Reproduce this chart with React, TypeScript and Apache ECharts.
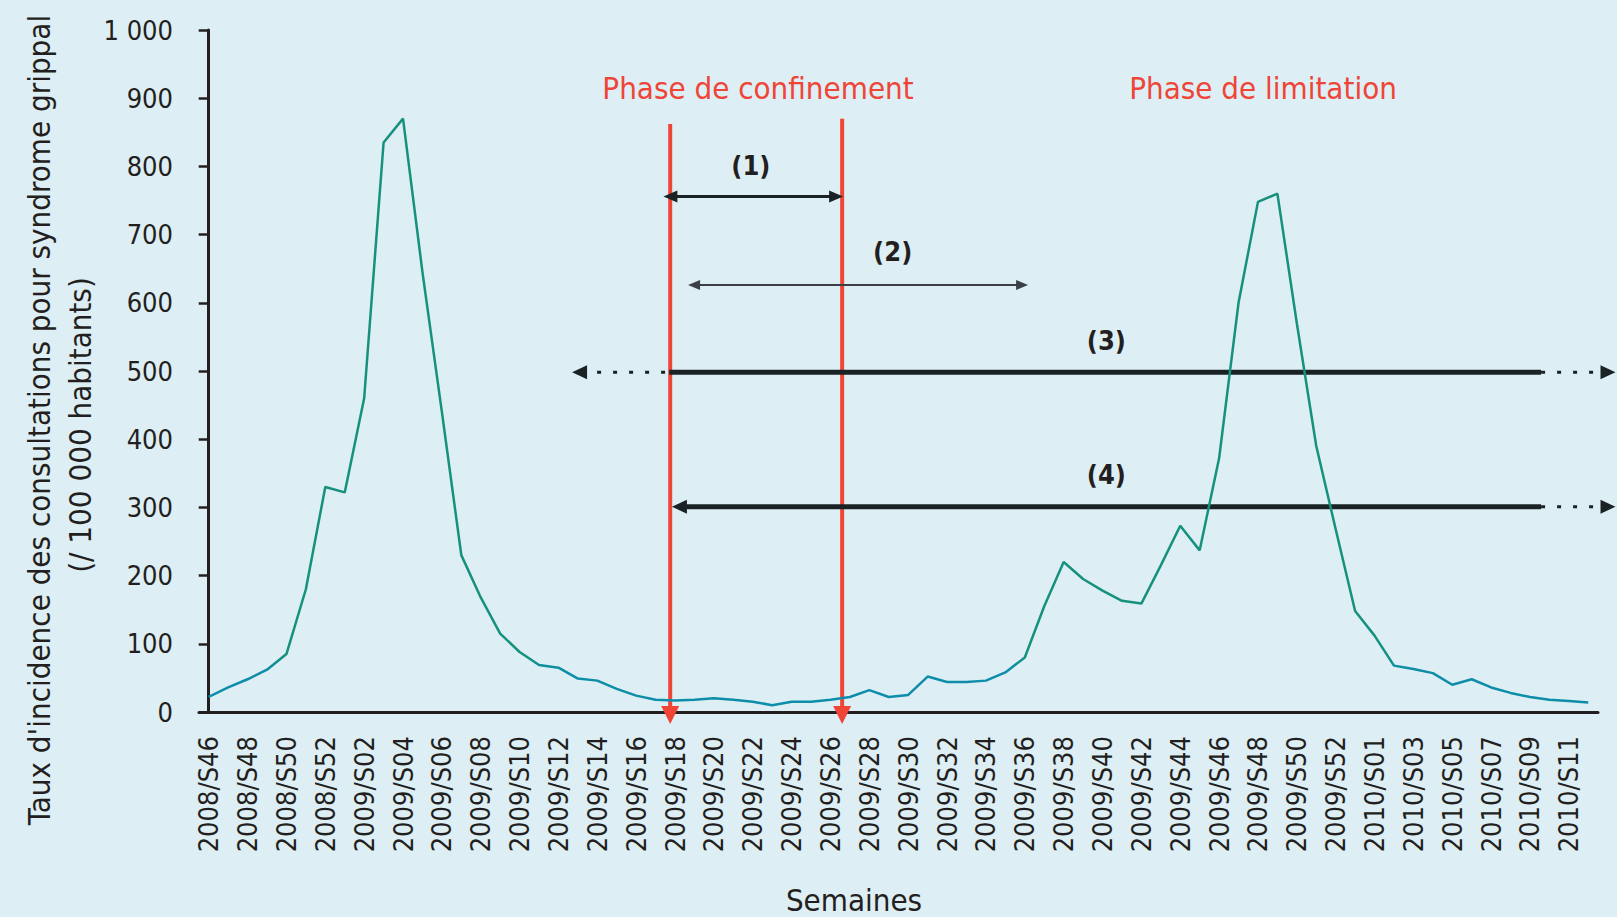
import React, { useEffect, useRef } from 'react';
import * as echarts from 'echarts';

// ---- categories (ISO weeks) ----
const weeks = [
  '2008/S46', '2008/S47', '2008/S48', '2008/S49', '2008/S50', '2008/S51', '2008/S52',
  '2009/S01', '2009/S02', '2009/S03', '2009/S04', '2009/S05', '2009/S06', '2009/S07', '2009/S08',
  '2009/S09', '2009/S10', '2009/S11', '2009/S12', '2009/S13', '2009/S14', '2009/S15', '2009/S16',
  '2009/S17', '2009/S18', '2009/S19', '2009/S20', '2009/S21', '2009/S22', '2009/S23', '2009/S24',
  '2009/S25', '2009/S26', '2009/S27', '2009/S28', '2009/S29', '2009/S30', '2009/S31', '2009/S32',
  '2009/S33', '2009/S34', '2009/S35', '2009/S36', '2009/S37', '2009/S38', '2009/S39', '2009/S40',
  '2009/S41', '2009/S42', '2009/S43', '2009/S44', '2009/S45', '2009/S46', '2009/S47', '2009/S48',
  '2009/S49', '2009/S50', '2009/S51', '2009/S52', '2009/S53',
  '2010/S01', '2010/S02', '2010/S03', '2010/S04', '2010/S05', '2010/S06', '2010/S07', '2010/S08',
  '2010/S09', '2010/S10', '2010/S11', '2010/S12',
];

// ---- incidence per 100 000 inhabitants ----
const incidence = [
  22, 36, 48, 62, 85, 180, 330,
  322, 460, 835, 870, 645, 440, 230, 168,
  115, 88, 69, 65, 49, 46, 34, 24,
  18, 17, 18, 20, 18, 15, 10, 15,
  15, 18, 22, 32, 22, 25, 52, 44,
  44, 46, 58, 80, 155, 220, 195, 178,
  163, 159, 215, 273, 237, 372, 600, 748,
  760, 570, 390, 268, 148,
  112, 68, 63, 57, 40, 48, 36, 28,
  22, 18, 16, 14,
];

// ---- y axis ----
const yMin = 0;
const yMax = 1000;
const yStep = 100;

// ---- phase markers (positions in week index units) ----
const phaseWeeks = [23.75, 32.6];
const phaseTops = [862, 870];
const phaseLabels = ['Phase de confinement', 'Phase de limitation'];
const phaseLabelWeeks = [28.27, 54.26];
const phaseLabelLevels = [915, 915];

// ---- numbered periods (1)-(4) ----
const arrowLabels = ['(1)', '(2)', '(3)', '(4)'];
const arrowLevels = [756, 626, 498, 301];
const arrowFrom = [23.4, 24.67, 18.7, 23.84];
const arrowTo = [32.65, 42.17, 72.4, 72.4];
const solidFrom = [23.4, 24.67, 23.7, 23.84];
const solidTo = [32.65, 42.17, 68.57, 68.57];
const arrowLabelWeeks = [27.9, 35.2, 46.2, 46.2];
const arrowLabelLevels = [802, 675, 545, 348];

const yTitle1 = "Taux d'incidence des consultations pour syndrome grippal";
const yTitle2 = '(/ 100 000 habitants)';
const xTitle = 'Semaines';

const FONT = "'DejaVu Sans Condensed', 'DejaVu Sans', sans-serif";
const INK = '#231f20';
const RED = '#ef4537';
const BG = '#ddeef4';

export default function App() {
  const ref = useRef<HTMLDivElement>(null);

  useEffect(() => {
    if (!ref.current) return;
    const chart = echarts.init(ref.current, undefined, { renderer: 'svg' });

    const lineGradient = new echarts.graphic.LinearGradient(
      0, 0, 0, 917,
      [
        { offset: 0, color: '#15917d' },
        { offset: 0.715, color: '#15917d' },
        { offset: 0.73, color: '#0d8da9' },
        { offset: 1, color: '#0d8da9' },
      ],
      true
    );

    const head = (tipX: number, y: number, dir: number, len: number, half: number, color: string) => ({
      type: 'polygon',
      shape: { points: [[tipX, y], [tipX - dir * len, y - half], [tipX - dir * len, y + half]] },
      style: { fill: color },
    });

    const option: any = {
      animation: false,
      backgroundColor: BG,
      textStyle: { fontFamily: FONT },
      grid: { left: 199, right: 19, top: 30, bottom: 205, containLabel: false },
      xAxis: [
        {
          type: 'category',
          data: weeks,
          boundaryGap: true,
          axisLine: { lineStyle: { color: INK, width: 3 } },
          axisTick: { interval: 0, length: 8, lineStyle: { color: INK, width: 2.5 } },
          axisLabel: {
            interval: 1,
            rotate: 90,
            margin: 24,
            color: INK,
            fontSize: 27,
            fontFamily: FONT,
          },
          splitLine: { show: false },
        },
        {
          type: 'value',
          min: -0.5,
          max: weeks.length - 0.5,
          show: false,
          splitLine: { show: false },
        },
      ],
      yAxis: {
        type: 'value',
        min: yMin,
        max: yMax,
        interval: yStep,
        axisLine: { show: true, lineStyle: { color: INK, width: 3 } },
        axisTick: { show: true, length: 10, lineStyle: { color: INK, width: 2.5 } },
        axisLabel: {
          margin: 26,
          color: INK,
          fontSize: 27,
          fontFamily: FONT,
          formatter: (v: number) => (v >= 1000 ? `${Math.floor(v / 1000)} ${String(v % 1000).padStart(3, '0')}` : String(v)),
        },
        splitLine: { show: false },
      },
      graphic: [
        {
          type: 'text',
          x: 39,
          y: 420,
          rotation: Math.PI / 2,
          style: { text: yTitle1, fill: INK, font: `31px ${FONT}`, textAlign: 'center', textVerticalAlign: 'middle' },
        },
        {
          type: 'text',
          x: 80,
          y: 425,
          rotation: Math.PI / 2,
          style: { text: yTitle2, fill: INK, font: `31px ${FONT}`, textAlign: 'center', textVerticalAlign: 'middle' },
        },
        {
          type: 'text',
          x: 854,
          y: 900,
          style: { text: xTitle, fill: INK, font: `31px ${FONT}`, textAlign: 'center', textVerticalAlign: 'middle' },
        },
      ],
      series: [
        {
          type: 'custom',
          name: 'phases',
          xAxisIndex: 1,
          yAxisIndex: 0,
          silent: true,
          z: 1,
          clip: false,
          data: phaseWeeks.map((w, i) => [w, phaseTops[i]]),
          encode: { x: 0, y: 1 },
          renderItem: (params: any, api: any) => {
            const i = params.dataIndex;
            const [x, top] = api.coord([phaseWeeks[i], phaseTops[i]]);
            const [, base] = api.coord([phaseWeeks[i], 0]);
            const [lx, ly] = api.coord([phaseLabelWeeks[i], phaseLabelLevels[i]]);
            return {
              type: 'group',
              children: [
                { type: 'line', shape: { x1: x, y1: top, x2: x, y2: base - 4 }, style: { stroke: RED, lineWidth: 4 } },
                {
                  type: 'polygon',
                  shape: { points: [[x - 9, base - 6], [x + 9, base - 6], [x, base + 12]] },
                  style: { fill: RED },
                },
                {
                  type: 'text',
                  x: lx,
                  y: ly,
                  style: {
                    text: phaseLabels[i],
                    fill: RED,
                    font: `31px ${FONT}`,
                    textAlign: 'center',
                    textVerticalAlign: 'middle',
                    align: 'center',
                    verticalAlign: 'middle',
                  },
                },
              ],
            };
          },
        },
        {
          type: 'custom',
          name: 'periods',
          xAxisIndex: 1,
          yAxisIndex: 0,
          silent: true,
          z: 2,
          clip: false,
          data: arrowLevels.map((lvl, i) => [arrowFrom[i], lvl]),
          encode: { x: 0, y: 1 },
          renderItem: (params: any, api: any) => {
            const i = params.dataIndex;
            const lvl = arrowLevels[i];
            const [ax, y] = api.coord([arrowFrom[i], lvl]);
            const [bx] = api.coord([arrowTo[i], lvl]);
            const [sx] = api.coord([solidFrom[i], lvl]);
            const [ex] = api.coord([solidTo[i], lvl]);
            const [tx, ty] = api.coord([arrowLabelWeeks[i], arrowLabelLevels[i]]);
            const w = [3, 2, 5, 5][i];
            const color = i === 1 ? '#3a4043' : '#1b2226';
            const len = [14, 12, 15, 15][i];
            const half = [6, 5, 7, 7][i];
            const children: any[] = [];
            const s1 = Math.abs(sx - ax) < 1 ? ax + len * 0.6 : sx;
            const e1 = Math.abs(ex - bx) < 1 ? bx - len * 0.6 : ex;
            children.push({ type: 'line', shape: { x1: s1, y1: y, x2: e1, y2: y }, style: { stroke: color, lineWidth: w } });
            if (sx - ax > 1) {
              children.push({
                type: 'line',
                shape: { x1: ax + len * 0.6, y1: y, x2: sx, y2: y },
                style: { stroke: color, lineWidth: 3, lineDash: [4, 12] },
              });
            }
            if (bx - ex > 1) {
              children.push({
                type: 'line',
                shape: { x1: ex, y1: y, x2: bx - len * 0.6, y2: y },
                style: { stroke: color, lineWidth: 3, lineDash: [4, 12] },
              });
            }
            children.push(head(ax, y, -1, len, half, color));
            children.push(head(bx, y, 1, len, half, color));
            children.push({
              type: 'text',
              x: tx,
              y: ty,
              style: {
                text: arrowLabels[i],
                fill: INK,
                font: `bold 27px ${FONT}`,
                textAlign: 'center',
                textVerticalAlign: 'middle',
                align: 'center',
                verticalAlign: 'middle',
              },
            });
            return { type: 'group', children };
          },
        },
        {
          type: 'line',
          name: 'incidence',
          xAxisIndex: 0,
          yAxisIndex: 0,
          data: incidence,
          symbol: 'none',
          showSymbol: false,
          silent: true,
          z: 3,
          lineStyle: { width: 2.5, color: lineGradient },
        },
      ],
    };

    chart.setOption(option);
    return () => {
      chart.dispose();
    };
  }, []);

  return (
    <div
      ref={ref}
      style={{ position: 'absolute', left: 0, top: 0, width: 1617, height: 917, background: BG }}
    />
  );
}
